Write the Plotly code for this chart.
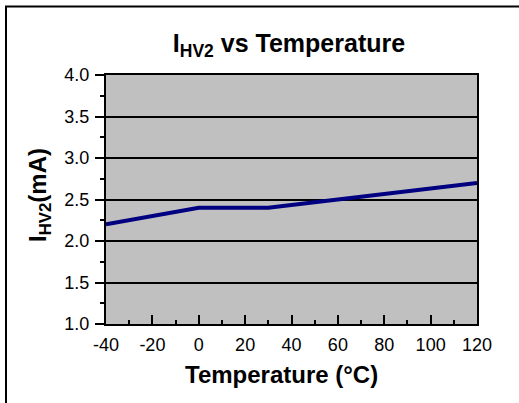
import plotly.graph_objects as go

temperature = [-40, 0, 30, 60, 120]
current_ma = [2.2, 2.4, 2.4, 2.5, 2.7]

x_tick_vals = [-40, -20, 0, 20, 40, 60, 80, 100, 120]
x_tick_text = ["-40", "-20", "0", "20", "40", "60", "80", "100", "120"]
y_tick_vals = [1.0, 1.5, 2.0, 2.5, 3.0, 3.5, 4.0]
y_tick_text = ["1.0", "1.5", "2.0", "2.5", "3.0", "3.5", "4.0"]

FONT = "Liberation Sans, Arial, sans-serif"
L, R, T, B = 106, 477, 75, 324
PW, PH = R - L, B - T

fig = go.Figure()
fig.add_trace(go.Scatter(
    x=temperature, y=current_ma, mode="lines",
    line=dict(color="#000080", width=4),
    showlegend=False, hoverinfo="skip",
))

fig.update_layout(
    width=519, height=403,
    margin=dict(l=L, r=519 - R, t=T, b=403 - B),
    paper_bgcolor="white",
    plot_bgcolor="#C0C0C0",
    font=dict(family=FONT, color="black", size=18),
    title=dict(
        text="<b>I<sub>HV2</sub> vs Temperature</b>",
        x=(289 - L) / PW, xanchor="center", xref="paper",
        y=1 - 43 / 403, yanchor="middle", yref="container",
        font=dict(size=25, family=FONT, color="black"),
    ),
    shapes=[dict(
        type="rect", xref="paper", yref="paper",
        x0=(6 - L) / PW, x1=1.3,
        y0=-0.5, y1=(B - 6.5) / PH,
        line=dict(color="black", width=2), layer="below",
    )],
    annotations=[
        dict(text="<b>Temperature (°C)</b>", xref="paper", yref="paper",
             x=(281 - L) / PW, y=(B - 375) / PH, xanchor="center", yanchor="middle",
             showarrow=False, font=dict(size=24, family=FONT, color="black")),
        dict(text="<b>I<sub>HV2</sub>(mA)</b>", xref="paper", yref="paper",
             x=(39 - L) / PW, y=(B - 195) / PH, xanchor="center", yanchor="middle",
             textangle=-90, showarrow=False, font=dict(size=24, family=FONT, color="black")),
    ],
)

fig.update_xaxes(
    range=[-40, 120], tickvals=x_tick_vals, ticktext=x_tick_text,
    ticks="inside", ticklen=9, tickwidth=2, tickcolor="black",
    minor=dict(dtick=10, tick0=0, ticks="inside", ticklen=4, tickwidth=2, tickcolor="black", showgrid=False),
    showgrid=False, zeroline=False,
    showline=True, linecolor="black", linewidth=2, mirror=True,
    tickfont=dict(size=18, family=FONT, color="black"),
    ticklabelstandoff=3,
)
fig.update_yaxes(
    range=[1, 4], tickvals=y_tick_vals, ticktext=y_tick_text,
    ticks="outside", ticklen=9, tickwidth=2, tickcolor="black",
    minor=dict(dtick=0.25, tick0=0, ticks="outside", ticklen=4, tickwidth=2, tickcolor="black", showgrid=False),
    showgrid=True, gridcolor="black", gridwidth=2,
    zeroline=False,
    showline=True, linecolor="black", linewidth=2, mirror=True,
    tickfont=dict(size=18, family=FONT, color="black"),
    ticklabelstandoff=2,
)

fig.write_html("out.html")
